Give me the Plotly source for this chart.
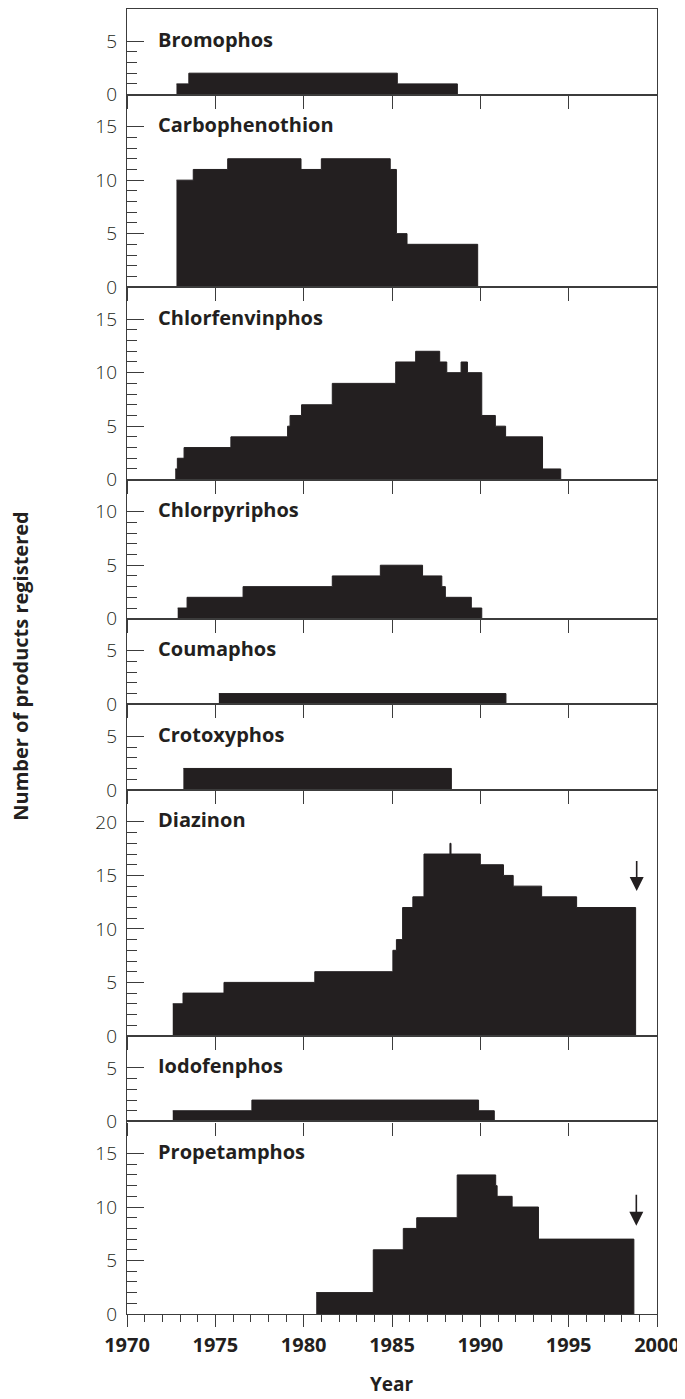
import plotly.graph_objects as go

# ---------------- data ----------------
panel_names = ["Bromophos", "Carbophenothion", "Chlorfenvinphos", "Chlorpyriphos",
               "Coumaphos", "Crotoxyphos", "Diazinon", "Iodofenphos", "Propetamphos"]
panel_ymax = [8, 18, 18, 13, 8, 8, 23, 8, 18]
panel_top_label = [5, 15, 15, 10, 5, 5, 20, 5, 15]

# step change years and number of products from that year on (0 = end of registrations)
bromophos_years = [1972.8, 1973.5, 1985.3, 1988.7]
bromophos_counts = [1, 2, 1, 0]

carbophenothion_years = [1972.8, 1973.75, 1975.7, 1979.85, 1981.0, 1984.9, 1985.25, 1985.85, 1989.85]
carbophenothion_counts = [10, 11, 12, 11, 12, 11, 5, 4, 0]

chlorfenvinphos_years = [1972.73, 1972.85, 1973.23, 1975.88, 1979.09, 1979.23, 1979.88, 1981.62,
                         1985.21, 1986.34, 1987.7, 1988.1, 1988.91, 1989.27, 1990.08, 1990.85,
                         1991.43, 1993.52, 1994.55]
chlorfenvinphos_counts = [1, 2, 3, 4, 5, 6, 7, 9, 11, 12, 11, 10, 11, 10, 6, 5, 4, 1, 0]

chlorpyriphos_years = [1972.87, 1973.4, 1976.57, 1981.62, 1984.34, 1986.73, 1987.82, 1988.02, 1989.49, 1990.08]
chlorpyriphos_counts = [1, 2, 3, 4, 5, 4, 3, 2, 1, 0]

coumaphos_years = [1975.2, 1991.45]
coumaphos_counts = [1, 0]

crotoxyphos_years = [1973.19, 1988.36]
crotoxyphos_counts = [2, 0]

diazinon_years = [1972.59, 1973.17, 1975.49, 1980.63, 1985.05, 1985.25, 1985.6, 1986.18, 1986.81,
                  1988.28, 1988.34, 1990.0, 1991.31, 1991.86, 1993.47, 1995.45, 1998.79]
diazinon_counts = [3, 4, 5, 6, 8, 9, 12, 13, 17, 18, 17, 16, 15, 14, 13, 12, 0]

iodofenphos_years = [1972.59, 1977.07, 1989.9, 1990.79]
iodofenphos_counts = [1, 2, 1, 0]

propetamphos_years = [1980.71, 1983.94, 1985.64, 1986.4, 1988.69, 1990.87, 1990.95, 1991.8, 1993.29, 1998.69]
propetamphos_counts = [2, 6, 8, 9, 13, 12, 11, 10, 7, 0]

# arrows (panel index, year, tail value, tip value)
arrow_panels = [6, 8]
arrow_years = [1998.85, 1998.83]
arrow_tail = [16.5, 11.3]
arrow_tip = [13.55, 8.25]

x_tick_labels = ["1970", "1975", "1980", "1985", "1990", "1995", "2000"]
x_tick_values = [1970, 1975, 1980, 1985, 1990, 1995, 2000]

series_years = [bromophos_years, carbophenothion_years, chlorfenvinphos_years, chlorpyriphos_years,
                coumaphos_years, crotoxyphos_years, diazinon_years, iodofenphos_years, propetamphos_years]
series_counts = [bromophos_counts, carbophenothion_counts, chlorfenvinphos_counts, chlorpyriphos_counts,
                 coumaphos_counts, crotoxyphos_counts, diazinon_counts, iodofenphos_counts, propetamphos_counts]

# ---------------- styling ----------------
BAR = "#231f20"
LINE = "#3c3c3c"
FONT = "Open Sans"

fig = go.Figure()

total = sum(panel_ymax)
n = len(panel_names)
cum = 0
for i in range(n):
    top = 1 - cum / total
    cum += panel_ymax[i]
    bot = 1 - cum / total
    sfx = "" if i == 0 else str(i + 1)
    xa, ya = "x" + sfx, "y" + sfx

    fig.add_trace(go.Scatter(
        x=series_years[i], y=series_counts[i], mode="lines",
        line=dict(shape="hv", width=1, color=BAR),
        fill="tozeroy", fillcolor=BAR, xaxis=xa, yaxis=ya,
        hoverinfo="skip"))

    last = (i == n - 1)
    xaxis = dict(
        domain=[0, 1], range=[1970, 2000], anchor=ya,
        showline=True, linecolor=LINE, linewidth=1.3, mirror=True,
        showgrid=False, zeroline=False,
        tickmode="array", tickvals=x_tick_values, ticktext=x_tick_labels,
        ticks="outside", tickcolor=LINE, tickwidth=1.3,
        ticklen=12 if last else 13,
        showticklabels=last,
        tickfont=dict(family=FONT, size=20, color="#231f20", weight="bold"),
        ticklabelstandoff=1,
    )
    if last:
        xaxis["minor"] = dict(tickmode="array", tickvals=list(range(1970, 2001)),
                              ticks="outside", ticklen=7, tickcolor=LINE, tickwidth=1.3)
    if i > 0:
        xaxis["matches"] = "x"
    fig.layout["xaxis" + sfx] = xaxis

    ytop = panel_top_label[i]
    majors = list(range(0, ytop + 1, 5))
    minors = [v for v in range(0, ytop + 1) if v % 5 != 0]
    fig.layout["yaxis" + sfx] = dict(
        domain=[bot, top], range=[0, panel_ymax[i]], anchor=xa,
        showline=True, linecolor=LINE, linewidth=1.3, mirror=True,
        showgrid=False, zeroline=False,
        tickmode="array", tickvals=majors,
        ticks="inside", ticklen=17, tickcolor=LINE, tickwidth=1.3,
        minor=dict(tickmode="array", tickvals=minors, ticks="inside", ticklen=10,
                   tickcolor=LINE, tickwidth=1.3),
        tickfont=dict(family=FONT, size=19, color="#231f20", weight=300),
        ticklabelstandoff=5,
    )

    fig.add_annotation(
        x=1971.65, y=ytop, xref=xa, yref=ya, text="<b>%s</b>" % panel_names[i],
        showarrow=False, xanchor="left", yanchor="middle", yshift=2,
        font=dict(family=FONT, size=20, color="#231f20"))

for k in range(len(arrow_panels)):
    p = arrow_panels[k]
    sfx = "" if p == 0 else str(p + 1)
    fig.add_annotation(
        x=arrow_years[k], y=arrow_tip[k], ax=arrow_years[k], ay=arrow_tail[k],
        xref="x" + sfx, yref="y" + sfx, axref="x" + sfx, ayref="y" + sfx,
        text="", showarrow=True, arrowhead=2, arrowsize=1.75, arrowwidth=1.6,
        arrowcolor=BAR)

# figure sits inside the page body's 8px margin: 677x1391 drawing area
fig.add_annotation(
    x=-0.2, y=0.496, xref="paper", yref="paper", text="<b>Number of products registered</b>",
    textangle=-90, showarrow=False, xanchor="center", yanchor="middle",
    font=dict(family=FONT, size=20, color="#231f20"))

fig.add_annotation(
    x=0.5, y=-0.0535, xref="paper", yref="paper", text="<b>Year</b>",
    showarrow=False, xanchor="center", yanchor="middle",
    font=dict(family=FONT, size=19, color="#231f20"))

fig.update_layout(
    width=677, height=1391,
    margin=dict(l=119, r=28, t=1, b=85),
    plot_bgcolor="white", paper_bgcolor="white",
    showlegend=False,
)

fig.write_html("out.html")
